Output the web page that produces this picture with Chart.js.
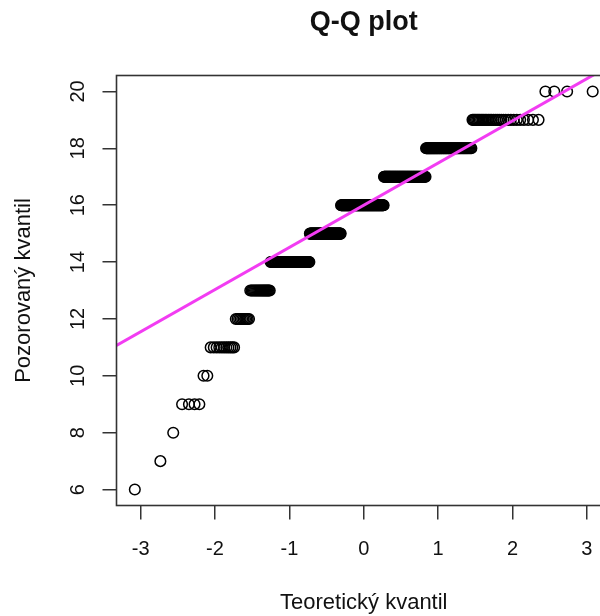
<!DOCTYPE html>
<html><head><meta charset="utf-8">
<script src="https://cdn.jsdelivr.net/npm/chart.js@4"></script>
<style>
html,body{margin:0;padding:0;background:#fff;overflow:hidden;width:600px;height:616px}
#wrap{width:620px;height:616px}
canvas{display:block}
</style>
</head><body><div id="wrap"><canvas id="c" width="620" height="616" style="width:620px;height:616px"></canvas></div>
<script>
const sampleValues = [6, 7, 8, 9, 10, 11, 12, 13, 14, 15, 16, 17, 18, 19, 20];
const sampleCounts = [1, 1, 1, 4, 2, 11, 10, 20, 62, 70, 109, 92, 62, 31, 4];
const xTickValues = [-3, -2, -1, 0, 1, 2, 3];
const yTickValues = [6, 8, 10, 12, 14, 16, 18, 20];
const chartTitle = 'Q-Q plot';
const xTitle = 'Teoretický kvantil';
const yTitle = 'Pozorovaný kvantil';

// ---- normal quantile function (Acklam) ----
function qnorm(p) {
  const a = [-3.969683028665376e+01, 2.209460984245205e+02, -2.759285104469687e+02, 1.383577518672690e+02, -3.066479806614716e+01, 2.506628277459239e+00];
  const b = [-5.447609879822406e+01, 1.615858368580409e+02, -1.556989798598866e+02, 6.680131188771972e+01, -1.328068155288572e+01];
  const c = [-7.784894002430293e-03, -3.223964580411365e-01, -2.400758277161838e+00, -2.549671034971036e+00, 4.374664141464968e+00, 2.938163982698783e+00];
  const d = [7.784695709041462e-03, 3.224671290700398e-01, 2.445134137142996e+00, 3.754408661907416e+00];
  const plow = 0.02425, phigh = 1 - plow;
  let q, r;
  if (p < plow) {
    q = Math.sqrt(-2 * Math.log(p));
    return (((((c[0]*q+c[1])*q+c[2])*q+c[3])*q+c[4])*q+c[5]) / ((((d[0]*q+d[1])*q+d[2])*q+d[3])*q+1);
  } else if (p <= phigh) {
    q = p - 0.5; r = q*q;
    return (((((a[0]*r+a[1])*r+a[2])*r+a[3])*r+a[4])*r+a[5])*q / (((((b[0]*r+b[1])*r+b[2])*r+b[3])*r+b[4])*r+1);
  } else {
    q = Math.sqrt(-2 * Math.log(1 - p));
    return -(((((c[0]*q+c[1])*q+c[2])*q+c[3])*q+c[4])*q+c[5]) / ((((d[0]*q+d[1])*q+d[2])*q+d[3])*q+1);
  }
}

// sorted sample
const sample = [];
sampleValues.forEach((v, k) => { for (let j = 0; j < sampleCounts[k]; j++) sample.push(v); });
const n = sample.length;
// theoretical quantiles (ppoints, a = 0.5 for n > 10)
const points = sample.map((v, i) => ({ x: qnorm((i + 1 - 0.5) / n), y: v }));

// qqline through the quartiles
function quantile7(s, p) { const h = (s.length - 1) * p, lo = Math.floor(h); return s[lo] + (h - lo) * ((s[lo + 1] ?? s[lo]) - s[lo]); }
const q1 = quantile7(sample, 0.25), q3 = quantile7(sample, 0.75);
const slope = (q3 - q1) / (qnorm(0.75) - qnorm(0.25));
const intercept = q1 - slope * qnorm(0.25);

// axis ranges (4% extension like R)
const xr = [points[0].x, points[n - 1].x];
const yr = [Math.min(...sample), Math.max(...sample)];
const xPad = 0.04 * (xr[1] - xr[0]), yPad = 0.04 * (yr[1] - yr[0]);
const xMin = xr[0] - xPad, xMax = xr[1] + xPad;
const yMin = yr[0] - yPad, yMax = yr[1] + yPad;
const lineData = [{ x: xMin, y: intercept + slope * xMin }, { x: xMax, y: intercept + slope * xMax }];

const FONT = "'Liberation Sans', Arial, Helvetica, sans-serif";
const INK = '#111';
const AXIS = '#333';

const boxAndYLabels = {
  id: 'boxAndYLabels',
  afterDraw(chart) {
    const { ctx, chartArea: a, scales } = chart;
    ctx.save();
    ctx.strokeStyle = AXIS;
    ctx.lineWidth = 1.6;
    ctx.strokeRect(a.left, a.top, a.right - a.left, a.bottom - a.top);
    ctx.fillStyle = INK;
    ctx.font = '20px ' + FONT;
    ctx.textAlign = 'center';
    ctx.textBaseline = 'alphabetic';
    yTickValues.forEach(v => {
      const py = scales.y.getPixelForValue(v);
      ctx.save();
      ctx.translate(83.5, py);
      ctx.rotate(-Math.PI / 2);
      ctx.fillText(String(v), 0, 0);
      ctx.restore();
    });
    ctx.restore();
  }
};

new Chart(document.getElementById('c'), {
  type: 'scatter',
  data: {
    datasets: [
      {
        type: 'line',
        data: lineData,
        borderColor: '#f23cf2',
        borderWidth: 3,
        pointRadius: 0,
        showLine: true,
        fill: false,
        clip: 0,
        order: 0
      },
      {
        data: points,
        pointStyle: 'circle',
        pointRadius: 5.3,
        pointBorderWidth: 1.5,
        borderColor: '#000',
        backgroundColor: 'rgba(0,0,0,0)',
        pointBackgroundColor: 'rgba(0,0,0,0)',
        pointBorderColor: '#000',
        clip: false,
        order: 1
      }
    ]
  },
  options: {
    responsive: false,
    animation: false,
    events: [],
    devicePixelRatio: 1,
    layout: { padding: { left: 0, right: 9, top: 0, bottom: 0 } },
    plugins: {
      legend: { display: false },
      tooltip: { enabled: false },
      title: {
        display: true,
        text: chartTitle,
        fullSize: false,
        color: INK,
        font: { family: FONT, size: 27, weight: 'bold', lineHeight: 1.2 },
        padding: { top: 6.2, bottom: 36.9 }
      }
    },
    scales: {
      x: {
        type: 'linear',
        position: 'bottom',
        min: xMin,
        max: xMax,
        afterBuildTicks(s) { s.ticks = xTickValues.map(v => ({ value: v })); },
        afterFit(s) { s.height = 110.5; },
        border: { display: false },
        grid: { drawOnChartArea: false, drawTicks: true, tickLength: 14, tickWidth: 1.5, tickColor: AXIS, color: AXIS, lineWidth: 1.5 },
        ticks: { padding: 17.5, color: INK, font: { family: FONT, size: 20, lineHeight: 1.2 }, maxRotation: 0, autoSkip: false, callback: v => String(v) },
        title: { display: true, text: xTitle, color: INK, font: { family: FONT, size: 22, lineHeight: 1.2 }, padding: { top: 0, bottom: 0 } }
      },
      y: {
        type: 'linear',
        position: 'left',
        min: yMin,
        max: yMax,
        afterBuildTicks(s) { s.ticks = yTickValues.map(v => ({ value: v })); },
        afterFit(s) { s.width = 116.5; },
        border: { display: false },
        grid: { drawOnChartArea: false, drawTicks: true, tickLength: 14, tickWidth: 1.5, tickColor: AXIS, color: AXIS, lineWidth: 1.5 },
        ticks: { display: false },
        title: { display: true, text: yTitle, color: INK, font: { family: FONT, size: 22, lineHeight: 1.2 }, padding: { top: 10.8, bottom: 0 } }
      }
    }
  },
  plugins: [boxAndYLabels]
});
</script>
</body></html>
